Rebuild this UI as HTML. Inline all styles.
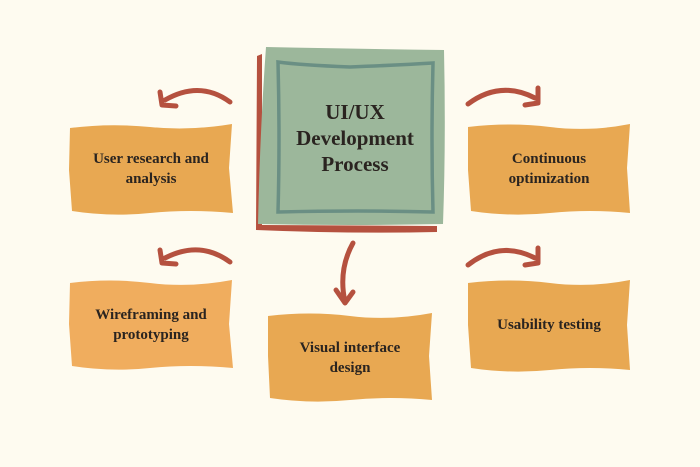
<!DOCTYPE html>
<html><head><style>
body{margin:0;width:700px;height:467px;background:#fefbf0;overflow:hidden;position:relative;font-family:"Liberation Serif","DejaVu Serif",serif;}
.b{position:absolute;display:flex;align-items:center;justify-content:center;text-align:center;font-weight:bold;font-size:15px;line-height:20px;color:#2a2420;}
svg{position:absolute;left:0;top:0}
</style></head><body>
<svg width="700" height="467" viewBox="0 0 700 467">
<g fill="#e8a852">
<path d="M70 128 Q110 123 150 127 T232 124 L229 168 L233 213 Q190 209 150 213 T72 211 L69 170 Z"/>
<path d="M468 127 Q510 122 550 127 T630 124 L627 168 L630 213 Q590 209 550 213 T471 211 L468 170 Z"/>
<path d="M268 316 Q310 311 350 316 T432 313 L429 356 L432 400 Q390 396 350 400 T270 398 L268 356 Z"/>
<path d="M468 283 Q510 278 550 283 T630 280 L627 325 L630 370 Q590 366 550 370 T471 368 L468 325 Z"/>
</g>
<path fill="#f0ad5e" d="M70 283 Q110 278 150 283 T232 280 L229 324 L233 368 Q190 364 150 368 T72 366 L69 324 Z"/>
<path fill="#b5513f" d="M257 56 L262 54 L262 225 L437 226 L437 232 Q350 234 256 230 Z"/>
<path fill="#9cb79b" d="M266 47 Q360 49 444 50 Q446 140 443 224 Q350 226 258 224 Q260 130 266 47 Z"/>
<path fill="none" stroke="#6a8f84" stroke-width="3.5" d="M278 62 Q300 65 350 67 Q400 65 433 63 Q431 140 433 212 Q360 210 278 212 Q280 140 278 62 Z"/>
<g fill="none" stroke="#b5513f" stroke-width="5" stroke-linecap="round" stroke-linejoin="round">
<path d="M230 102 Q200 80 165 100"/><path d="M160 92 L162 105 L176 106"/>
<path d="M230 262 Q200 240 165 258"/><path d="M160 250 L162 263 L176 264"/>
<path d="M468 104 Q500 80 535 98"/><path d="M538 88 L538 103 L525 105"/>
<path d="M468 265 Q500 240 535 258"/><path d="M538 248 L538 263 L525 265"/>
<path d="M353 243 Q338 270 345 302"/><path d="M336 290 L345 303 L353 292"/>
</g>
</svg>
<div class="b" style="left:280px;top:64px;width:150px;height:148px;font-size:21px;line-height:26px">UI/UX<br>Development<br>Process</div>
<div class="b" style="left:72px;top:126px;width:158px;height:86px">User research and<br>analysis</div>
<div class="b" style="left:470px;top:126px;width:158px;height:86px">Continuous<br>optimization</div>
<div class="b" style="left:72px;top:282px;width:158px;height:86px">Wireframing and<br>prototyping</div>
<div class="b" style="left:270px;top:315px;width:160px;height:86px">Visual interface<br>design</div>
<div class="b" style="left:470px;top:282px;width:158px;height:86px">Usability testing</div>
</body></html>
